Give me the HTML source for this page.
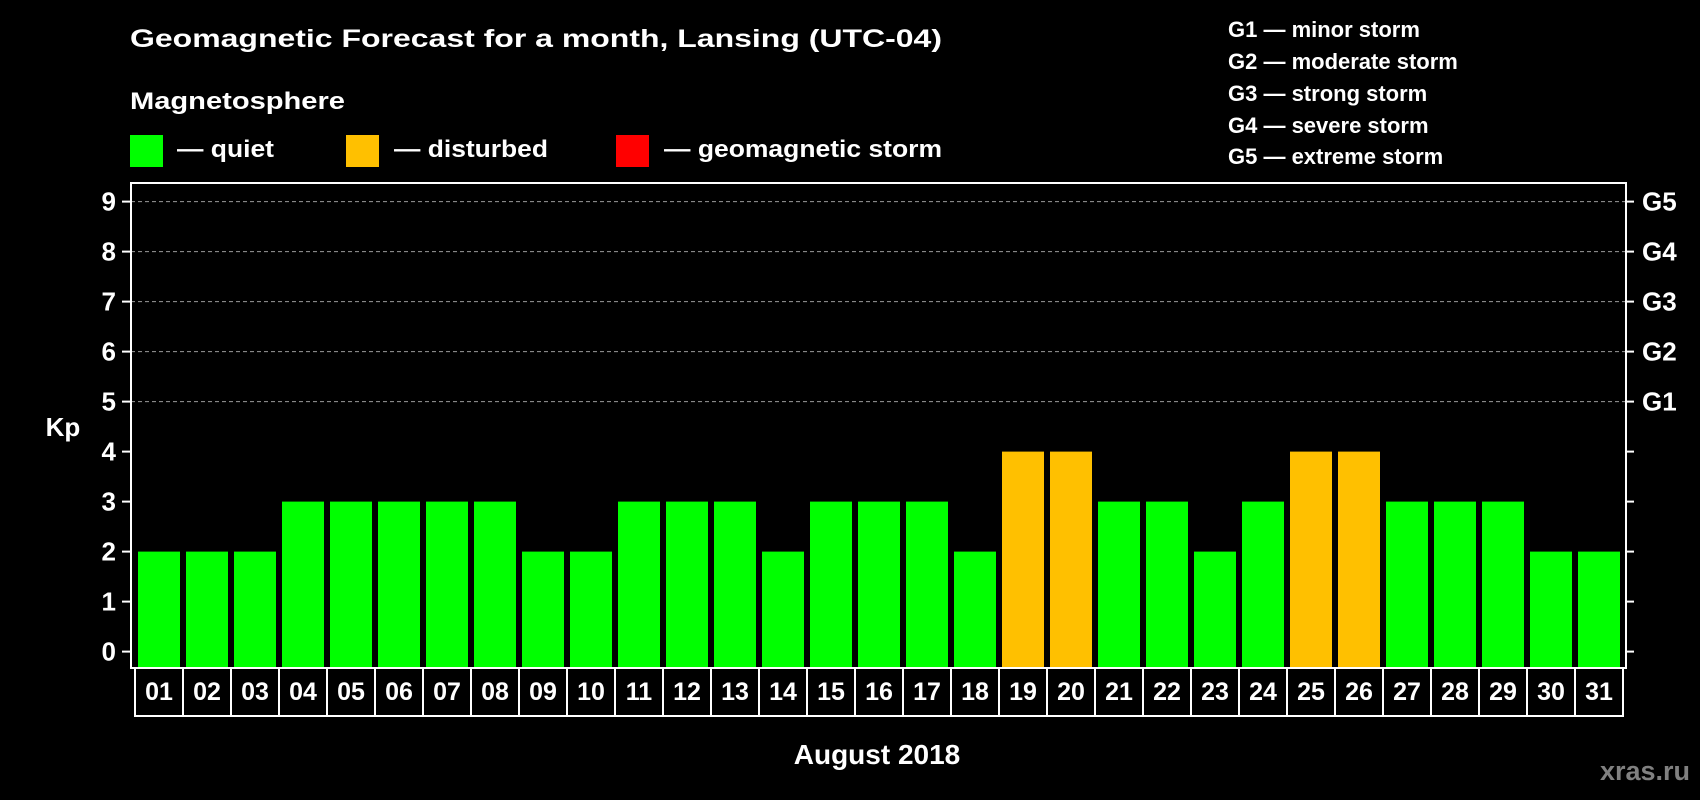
<!DOCTYPE html>
<html><head><meta charset="utf-8"><style>
html,body{margin:0;padding:0;background:#000;}
svg{display:block;font-family:"Liberation Sans",Arial,sans-serif;font-weight:bold;}
</style></head><body>
<svg id="chart" width="1700" height="800" viewBox="0 0 1700 800">
<rect x="0" y="0" width="1700" height="800" fill="#000"/>
<text x="130" y="47" font-size="25" fill="#fff" textLength="812" lengthAdjust="spacingAndGlyphs">Geomagnetic Forecast for a month, Lansing (UTC-04)</text>
<text x="130" y="109" font-size="24" fill="#fff" textLength="215" lengthAdjust="spacingAndGlyphs">Magnetosphere</text>
<rect x="130" y="135" width="33" height="32" fill="#00ff00"/>
<text x="177" y="157" font-size="24" fill="#fff" textLength="97" lengthAdjust="spacingAndGlyphs">— quiet</text>
<rect x="346" y="135" width="33" height="32" fill="#ffc000"/>
<text x="394" y="157" font-size="24" fill="#fff" textLength="154" lengthAdjust="spacingAndGlyphs">— disturbed</text>
<rect x="616" y="135" width="33" height="32" fill="#ff0000"/>
<text x="664" y="157" font-size="24" fill="#fff" textLength="278" lengthAdjust="spacingAndGlyphs">— geomagnetic storm</text>
<g font-size="22" fill="#fff">
<text x="1228" y="37">G1 — minor storm</text>
<text x="1228" y="69">G2 — moderate storm</text>
<text x="1228" y="101">G3 — strong storm</text>
<text x="1228" y="133">G4 — severe storm</text>
<text x="1228" y="164">G5 — extreme storm</text>
</g>
<text x="63" y="436" font-size="26" fill="#fff" text-anchor="middle">Kp</text>
<g id="grid"></g>
<g id="bars"></g>
<g id="axes"></g>
<text x="877" y="764" font-size="28" fill="#fff" text-anchor="middle">August 2018</text>
<text x="1690" y="780" font-size="27" fill="#808080" text-anchor="end">xras.ru</text>
</svg>
<script>
const days = ["01","02","03","04","05","06","07","08","09","10","11","12","13","14","15","16","17","18","19","20","21","22","23","24","25","26","27","28","29","30","31"];
const kpValues = [2,2,2,3,3,3,3,3,2,2,3,3,3,2,3,3,3,2,4,4,3,3,2,3,4,4,3,3,3,2,2];
const yTicks = [0,1,2,3,4,5,6,7,8,9];
const gLabels = ["G1","G2","G3","G4","G5"];
const gLevels = [5,6,7,8,9];

const NS = "http://www.w3.org/2000/svg";
const X0 = 135, CELL = 48, BAR_W = 42, BAR_OFF = 3;
const Y_ZERO = 651.6, UNIT = 50;
const FRAME_L = 131, FRAME_R = 1626, FRAME_T = 183, FRAME_B = 668;
function yScale(v){ return Y_ZERO - v*UNIT; }
function xScale(i){ return X0 + i*CELL; }
function colorFor(v){ return v >= 5 ? "#ff0000" : (v >= 4 ? "#ffc000" : "#00ff00"); }
function mk(tag, attrs, parent){ const e=document.createElementNS(NS,tag); for(const k in attrs) e.setAttribute(k, attrs[k]); parent.appendChild(e); return e; }

const grid = document.getElementById("grid");
const bars = document.getElementById("bars");
const axes = document.getElementById("axes");

gLevels.forEach((lv, i) => {
  const y = yScale(lv);
  const l = mk("line", {x1:FRAME_L, x2:FRAME_R, y1:y, y2:y, stroke:"#9a9a9a", "stroke-width":1, "stroke-dasharray":"4,3"}, grid);
  
  
  const t = mk("text", {x:1642, y:y+9, "font-size":26, fill:"#fff"}, axes);
  t.textContent = gLabels[i];
  
  
});

kpValues.forEach((v, i) => {
  const top = yScale(v);
  const r = mk("rect", {x:xScale(i)+BAR_OFF, y:top, width:BAR_W, height:FRAME_B-top, fill:colorFor(v)}, bars);
  
  
  const c = mk("rect", {x:xScale(i), y:FRAME_B, width:CELL, height:48, fill:"none", stroke:"#fff", "stroke-width":2}, axes);
  
  
  const t = mk("text", {x:xScale(i)+CELL/2, y:700, "font-size":25, fill:"#fff", "text-anchor":"middle"}, axes);
  t.textContent = days[i];
  
  
});

const frame = mk("path", {d:`M${FRAME_L},${FRAME_B} L${FRAME_L},${FRAME_T} L${FRAME_R},${FRAME_T} L${FRAME_R},${FRAME_B} Z`, fill:"none", stroke:"#fff", "stroke-width":2}, axes);



yTicks.forEach(v => {
  const y = yScale(v);
  const tl = mk("line", {x1:122, x2:FRAME_L, y1:y, y2:y, stroke:"#fff", "stroke-width":2}, axes);
  
  
  const tr = mk("line", {x1:FRAME_R, x2:1634, y1:y, y2:y, stroke:"#fff", "stroke-width":2}, axes);
  
  
  const t = mk("text", {x:116, y:y+9, "font-size":26, fill:"#fff", "text-anchor":"end"}, axes);
  t.textContent = v;
  
  
});
</script>
</body></html>
